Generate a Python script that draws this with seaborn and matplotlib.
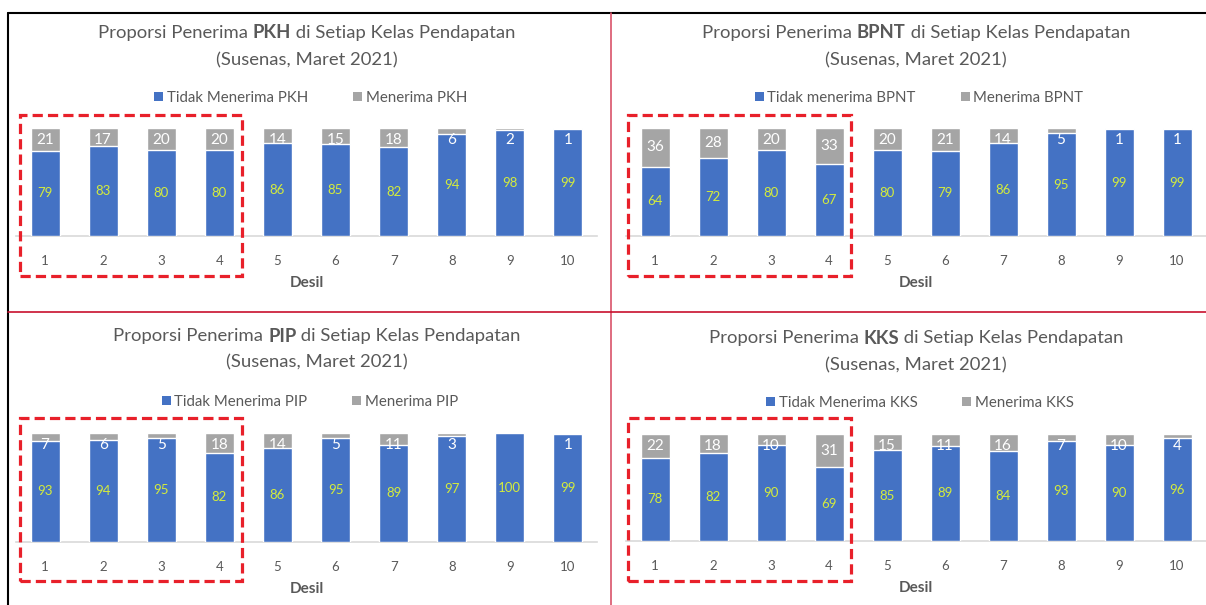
import matplotlib
matplotlib.use("Agg")
import matplotlib.pyplot as plt
import seaborn as sns
import pandas as pd
from matplotlib.lines import Line2D
from matplotlib.patches import Rectangle, Patch

# ---------------- data ----------------
deciles = ["1", "2", "3", "4", "5", "6", "7", "8", "9", "10"]

pkh_tidak = [79, 83, 80, 80, 86, 85, 82, 94, 98, 99]
pkh_terima = [21, 17, 20, 20, 14, 15, 18, 6, 2, 1]

bpnt_tidak = [64, 72, 80, 67, 80, 79, 86, 95, 99, 99]
bpnt_terima = [36, 28, 20, 33, 20, 21, 14, 5, 1, 1]

pip_tidak = [93, 94, 95, 82, 86, 95, 89, 97, 100, 99]
pip_terima = [7, 6, 5, 18, 14, 5, 11, 3, 0, 1]

kks_tidak = [78, 82, 90, 69, 85, 89, 84, 93, 90, 96]
kks_terima = [22, 18, 10, 31, 15, 11, 16, 7, 10, 4]

programs = ["PKH", "BPNT", "PIP", "KKS"]
legend_tidak = ["Tidak Menerima PKH", "Tidak menerima BPNT", "Tidak Menerima PIP", "Tidak Menerima KKS"]
legend_terima = ["Menerima PKH", "Menerima BPNT", "Menerima PIP", "Menerima KKS"]
title_pre = "Proporsi Penerima "
title_post = " di Setiap Kelas Pendapatan"
subtitle = "(Susenas, Maret 2021)"
xlabel = "Desil"

series_tidak = [pkh_tidak, bpnt_tidak, pip_tidak, kks_tidak]
series_terima = [pkh_terima, bpnt_terima, pip_terima, kks_terima]

# ---------------- style ----------------
BLUE = "#4472C4"
GRAY = "#A5A5A5"
TXT = "#595959"
GREEN = "#D4EC3C"
FONT = ["Lato", "DejaVu Sans"]

sns.set_theme(style="white")
plt.rcParams["font.family"] = FONT

W, H = 1206, 605
fig = plt.figure(figsize=(W / 100, H / 100), dpi=100)
fig.patch.set_facecolor("white")


def fx(px):
    return px / W


def fy(py):
    return 1 - py / H


panels = [
    dict(l=16, r=597, t=128, b=236, tcx=307, ty1=33, ty2=60, lcx=311, ly=98, box=(19.5, 115, 242, 276)),
    dict(l=626, r=1206, t=128, b=236, tcx=916, ty1=33, ty2=60, lcx=919, ly=98, box=(628, 115, 851, 276)),
    dict(l=16, r=597, t=433, b=542, tcx=317, ty1=336, ty2=362, lcx=310, ly=402, box=(19.5, 418, 242, 581)),
    dict(l=626, r=1206, t=434, b=541, tcx=916, ty1=338, ty2=365, lcx=920, ly=403, box=(628, 418, 851, 581)),
]

renderer = fig.canvas.get_renderer()

for i, p in enumerate(panels):
    ax = fig.add_axes([fx(p["l"]), fy(p["b"]), fx(p["r"] - p["l"]), (p["b"] - p["t"]) / H])
    tidak = series_tidak[i]
    terima = series_terima[i]
    total = [a + b for a, b in zip(tidak, terima)]
    df = pd.DataFrame({"Desil": deciles, "total": total, "tidak": tidak, "terima": terima})

    sns.barplot(data=df, x="Desil", y="total", color=GRAY, saturation=1, width=0.5, ax=ax, zorder=2)
    sns.barplot(data=df, x="Desil", y="tidak", color=BLUE, saturation=1, width=0.5, ax=ax, zorder=3)

    ax.set_ylim(0, 100)
    ax.set_xlim(-0.5, 9.5)
    ax.set_yticks([])
    ax.set_ylabel("")
    for s in ["top", "left", "right"]:
        ax.spines[s].set_visible(False)
    ax.spines["bottom"].set_color("#D9D9D9")
    ax.spines["bottom"].set_linewidth(1.2)
    ax.tick_params(axis="x", length=0, pad=14, labelsize=9.5, colors=TXT)
    ax.set_xlabel(xlabel, fontsize=11, fontweight="bold", color=TXT, labelpad=6)
    ax.set_facecolor("none")

    # data labels
    for k in range(len(deciles)):
        ax.text(k, tidak[k] / 2, f"{tidak[k]}", ha="center", va="center",
                fontsize=9.5, color=GREEN, zorder=5)
        if terima[k] > 0:
            ypos = total[k] - max(terima[k], 22) / 2
            ax.text(k, ypos, f"{terima[k]}", ha="center", va="center", fontsize=11,
                    color="white", zorder=5)

    # legend
    handles = [Patch(facecolor=BLUE, edgecolor="none"), Patch(facecolor=GRAY, edgecolor="none")]
    leg_y = (p["b"] - p["ly"]) / (p["b"] - p["t"])
    leg_x = (p["lcx"] - p["l"]) / (p["r"] - p["l"])
    leg = ax.legend(handles, [legend_tidak[i], legend_terima[i]], loc="center",
                    bbox_to_anchor=(leg_x, leg_y), ncol=2, frameon=False,
                    fontsize=10.8, handlelength=0.6, handleheight=0.6, handletextpad=0.25,
                    columnspacing=3.0, borderaxespad=0)
    for t in leg.get_texts():
        t.set_color(TXT)

    # title with bold program name (three pieces, centered)
    pieces = [(title_pre, "normal"), (programs[i], "bold"), (title_post, "normal")]
    texts = []
    widths = []
    for s, wgt in pieces:
        t = fig.text(0, 0, s, fontsize=13.3, fontweight=wgt, color=TXT, ha="left", va="center")
        widths.append(t.get_window_extent(renderer=renderer).width)
        texts.append(t)
    x0 = p["tcx"] - sum(widths) / 2
    for t, wdt in zip(texts, widths):
        t.set_position((fx(x0), fy(p["ty1"])))
        x0 += wdt
    fig.text(fx(p["tcx"]), fy(p["ty2"]), subtitle, fontsize=13.3, color=TXT, ha="center", va="center")

    # dashed highlight box
    bx0, by0, bx1, by1 = p["box"]
    fig.add_artist(Rectangle((fx(bx0), fy(by1)), fx(bx1 - bx0), (by1 - by0) / H,
                             fill=False, edgecolor="#E8202A", linewidth=2.3,
                             linestyle=(0, (3.2, 1.6)), transform=fig.transFigure, zorder=10))

# frame / divider lines
fig.add_artist(Line2D([fx(8), 1], [fy(13), fy(13)], color="black", linewidth=1.5, transform=fig.transFigure))
fig.add_artist(Line2D([fx(8), fx(8)], [fy(13), 0], color="black", linewidth=1.5, transform=fig.transFigure))
fig.add_artist(Line2D([fx(611), fx(611)], [fy(13), 0], color="#D9536A", linewidth=1.2, transform=fig.transFigure))
fig.add_artist(Line2D([fx(8), 1], [fy(312), fy(312)], color="#C8102E", linewidth=1.2, transform=fig.transFigure))

fig.savefig("out.png", dpi=100)
